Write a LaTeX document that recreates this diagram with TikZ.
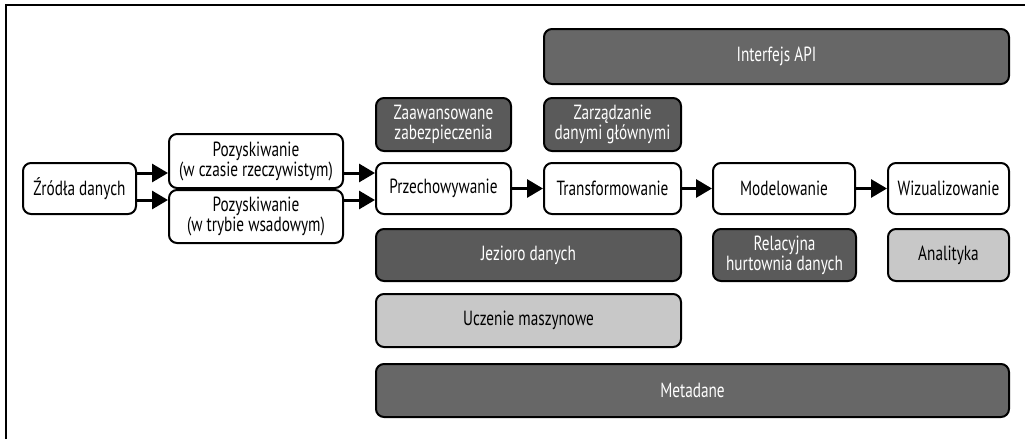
\documentclass[tikz,border=0pt]{standalone}
\usepackage{fontspec}
\setmainfont{PT Sans}[FakeStretch=0.745]
\usetikzlibrary{arrows.meta}
\definecolor{darkA}{HTML}{5A5A5A}
\definecolor{darkB}{HTML}{676767}
\definecolor{lightG}{HTML}{C8C8C8}
\begin{document}
\begin{tikzpicture}[x=1pt,y=-1pt,
  box/.style={draw=black, line width=2pt, rounded corners=8pt, align=center,
    inner sep=0pt, font=\fontsize{20.5}{20}\selectfont},
  whitebox/.style={box, fill=white, text=black},
  darkbox/.style={box, fill=darkA, text=white},
  darkboxB/.style={box, fill=darkB, text=white},
  lightbox/.style={box, fill=lightG, text=black},
  arr/.style={line width=3pt, -{Triangle[length=16pt,width=18pt]}},
]
\useasboundingbox (0,0) rectangle (1025,439);
\draw[line width=2pt] (6,439) -- (6,5) -- (1025,5);

\node[whitebox, minimum width=113pt, minimum height=51pt] (src) at (79.5,188.5) {Źródła danych};
\node[whitebox, minimum width=174pt, minimum height=54pt] (p1) at (256,161) {Pozyskiwanie\\(w czasie rzeczywistym)};
\node[whitebox, minimum width=174pt, minimum height=53pt] (p2) at (256,216.5) {Pozyskiwanie\\(w trybie wsadowym)};
\node[whitebox, minimum width=135pt, minimum height=51pt] (store) at (443.5,188.5) {Przechowywanie};
\node[darkbox, minimum width=135pt, minimum height=53pt] (sec) at (443.5,124.5) {Zaawansowane\\zabezpieczenia};
\node[darkboxB, minimum width=465pt, minimum height=55pt] (api) at (776.5,56.5) {Interfejs API};
\node[darkbox, minimum width=137pt, minimum height=53pt] (mdm) at (612.5,124.5) {Zarządzanie\\danymi głównymi};
\node[whitebox, minimum width=137pt, minimum height=51pt] (trans) at (612.5,188.5) {Transformowanie};
\node[whitebox, minimum width=142pt, minimum height=51pt] (model) at (784,188.5) {Modelowanie};
\node[whitebox, minimum width=121pt, minimum height=51pt] (viz) at (948.5,188.5) {Wizualizowanie};
\node[darkbox, minimum width=305pt, minimum height=52pt] (lake) at (528.5,255) {Jezioro danych};
\node[lightbox, minimum width=305pt, minimum height=53pt] (ml) at (528.5,320.5) {Uczenie maszynowe};
\node[darkboxB, minimum width=633pt, minimum height=53pt] (meta) at (692.5,390.5) {Metadane};
\node[darkbox, minimum width=143pt, minimum height=52pt] (rel) at (784.5,255) {Relacyjna\\hurtownia danych};
\node[lightbox, minimum width=121pt, minimum height=52pt] (ana) at (948.5,255) {Analityka};

\draw[arr] ([yshift=15.5pt]src.east) -- ([yshift=15.5pt]src.east -| p1.west);
\draw[arr] ([yshift=-11.5pt]src.east) -- ([yshift=-11.5pt]src.east -| p2.west);
\draw[arr] ([yshift=15.5pt]store.west -| p1.east) -- ([yshift=15.5pt]store.west);
\draw[arr] ([yshift=-11.5pt]store.west -| p2.east) -- ([yshift=-11.5pt]store.west);
\draw[arr] (store) -- (trans);
\draw[arr] (trans) -- (model);
\draw[arr] (model) -- (viz);
\end{tikzpicture}
\end{document}
